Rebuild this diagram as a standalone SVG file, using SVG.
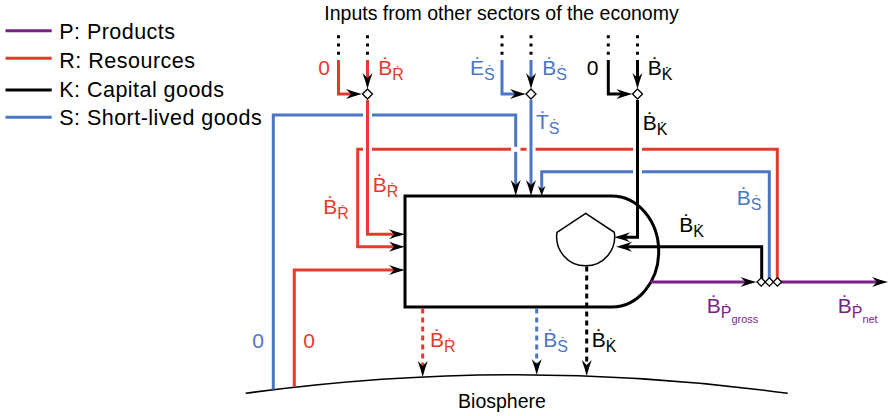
<svg xmlns="http://www.w3.org/2000/svg" width="890" height="416" viewBox="0 0 890 416">
<style>
text{font-family:"Liberation Sans","DejaVu Sans",Arial,sans-serif;}
.lbl{font-size:21px;}
.leg{font-size:21.5px;fill:#000;}
.r{fill:#e53b2c;} .b{fill:#4a76c5;} .p{fill:#7a1f87;} .k{fill:#000;}
.ln{fill:none;stroke-width:3;stroke-linejoin:miter;}
.sr{stroke:#e53b2c;} .sb{stroke:#4a76c5;} .sp{stroke:#7a1f87;} .sk{stroke:#000;}
.dot{fill:none;stroke:#000;stroke-width:3;stroke-dasharray:3 5.3;}
.dash{stroke-dasharray:5 4;}
.gap{stroke:#fff;stroke-width:5;fill:none;}
.dia{fill:#fff;stroke:#000;stroke-width:1.3;}
.arr{marker-end:url(#ah);}
.arrs{marker-end:url(#ahs);}
</style>
<defs>
<marker id="ah" markerUnits="userSpaceOnUse" viewBox="-12 -7 20 14" refX="0" refY="0" markerWidth="20" markerHeight="14" orient="auto">
<path d="M6,0 Q-2,-2 -10,-5 L-5,0 L-10,5 Q-2,2 6,0 Z" fill="#000"/>
</marker>
<marker id="ahs" markerUnits="userSpaceOnUse" viewBox="-12 -7 20 14" refX="0" refY="0" markerWidth="20" markerHeight="14" orient="auto">
<path d="M4,0 Q-1,-1.5 -6,-3.8 L-3,0 L-6,3.8 Q-1,1.5 4,0 Z" fill="#000"/>
</marker>
</defs>
<rect width="890" height="416" fill="#fff"/>

<g id="legend">
<line x1="5.5" y1="30.7" x2="51.7" y2="30.7" class="ln sp"/>
<line x1="5.5" y1="58.3" x2="51.7" y2="58.3" class="ln sr"/>
<line x1="5.5" y1="90" x2="51.7" y2="90" class="ln sk"/>
<line x1="5.5" y1="117.3" x2="51.7" y2="117.3" class="ln sb"/>
<text x="59.3" y="39.3" class="leg" textLength="115.7" lengthAdjust="spacing">P: Products</text>
<text x="59.3" y="68.3" class="leg" textLength="135.7" lengthAdjust="spacing">R: Resources</text>
<text x="59.3" y="97.3" class="leg" textLength="164.7" lengthAdjust="spacing">K: Capital goods</text>
<text x="59.3" y="124.7" class="leg" textLength="202.4" lengthAdjust="spacing">S: Short-lived goods</text>
</g>

<g id="title">
<text x="501.5" y="20" font-size="19.5" text-anchor="middle">Inputs from other sectors of the economy</text>
</g>

<g id="biosphere">
<path d="M245.7,393.3 A1994,1994 0 0 1 787.7,393.3" fill="none" stroke="#000" stroke-width="1.6"/>
<text x="502" y="408.3" font-size="19.5" text-anchor="middle">Biosphere</text>
</g>

<g id="sector">
<path d="M405,196 L611.7,196 A47,55.5 0 0 1 611.7,307 L405,307 Z" fill="#fff" stroke="#000" stroke-width="3"/>
</g>

<g id="connectors">
<line x1="338.5" y1="35.2" x2="338.5" y2="56" class="dot"/>
<line x1="367.5" y1="35.2" x2="367.5" y2="56" class="dot"/>
<line x1="502" y1="35.2" x2="502" y2="56" class="dot"/>
<line x1="531" y1="35.2" x2="531" y2="56" class="dot"/>
<line x1="608.3" y1="35.2" x2="608.3" y2="56" class="dot"/>
<line x1="637.5" y1="35.2" x2="637.5" y2="56" class="dot"/>

<path d="M338.5,60 L338.5,94 L356,94" class="ln sr arr"/>
<path d="M367.5,60 L367.5,83" class="ln sr arr"/>
<path d="M502,60 L502,94 L520,94" class="ln sb arr"/>
<path d="M531,60 L531,83" class="ln sb arr"/>
<path d="M608.3,60 L608.3,94 L626.5,94" class="ln sk arr"/>
<path d="M637.5,60 L637.5,83" class="ln sk arr"/>

<path d="M273.3,389.5 L273.3,115 L515.7,115 L515.7,190" class="ln sb arr"/>
<path d="M777.3,282 L777.3,149.3 L357.7,149.3 L357.7,246.7 L399,246.7" class="ln sr arr"/>
<path d="M769.3,282 L769.3,171.7 L541.7,171.7 L541.7,192" class="ln sb arrs"/>
<line x1="363" y1="115" x2="372" y2="115" class="gap"/>
<line x1="363" y1="149.3" x2="372" y2="149.3" class="gap"/>
<line x1="511" y1="149.3" x2="520.5" y2="149.3" class="gap"/>
<line x1="526.5" y1="149.3" x2="535.5" y2="149.3" class="gap"/>
<line x1="633" y1="149.3" x2="642" y2="149.3" class="gap"/>
<line x1="633" y1="171.7" x2="642" y2="171.7" class="gap"/>
<path d="M367.5,100 L367.5,234.3 L399,234.3" class="ln sr arr"/>
<path d="M531,100 L531,190" class="ln sb arr"/>
<path d="M637.5,100 L637.5,237.3 L620,237.3" class="ln sk arr"/>
<path d="M761.7,282 L761.7,246.7 L622,246.7" class="ln sk arr"/>
<path d="M294.3,387 L294.3,270 L399,270" class="ln sr arr"/>

<path d="M650.7,282 L750.5,282" class="ln sp arr"/>
<path d="M781,282 L882,282" class="ln sp arr"/>

<path d="M422.7,308.5 L422.7,371" class="ln sr dash arr"/>
<path d="M536.7,308.5 L536.7,369" class="ln sb dash arr"/>
<path d="M586.7,266.5 L586.7,370" class="ln sk dash arr"/>
</g>

<g id="capital-stock">
<path d="M557,232.3 L585.7,213.3 L614.3,232.3 A29,29 0 1 1 557,232.3 Z" fill="#fff" stroke="#000" stroke-width="1.5"/>
</g>

<g id="junctions">
<path id="j-r" d="M367.5,89 L372.5,94 L367.5,99 L362.5,94 Z" class="dia"/>
<path id="j-s" d="M531,89 L536,94 L531,99 L526,94 Z" class="dia"/>
<path id="j-k" d="M637.5,89 L642.5,94 L637.5,99 L632.5,94 Z" class="dia"/>
<path id="j-pk" d="M761.2,277.8 L765.4,282 L761.2,286.2 L757,282 Z" class="dia"/>
<path id="j-ps" d="M769.3,277.8 L773.5,282 L769.3,286.2 L765.1,282 Z" class="dia"/>
<path id="j-pr" d="M777.4,277.8 L781.6,282 L777.4,286.2 L773.2,282 Z" class="dia"/>
</g>

<g id="labels" class="lbl">
<text x="318.3" y="75" class="r">0</text>
<text x="378.3" y="75" class="r">Ḃ<tspan dy="5" font-size="16">Ṙ</tspan></text>
<text x="470" y="75" class="b">Ė<tspan dy="5" font-size="16">Ṡ</tspan></text>
<text x="542.3" y="75" class="b">Ḃ<tspan dy="5" font-size="16">Ṡ</tspan></text>
<text x="586.7" y="75" class="k">0</text>
<text x="647.7" y="75" class="k">Ḃ<tspan dy="5" font-size="16">K̇</tspan></text>
<text x="536" y="129" class="b">Ṫ<tspan dy="5" font-size="16">Ṡ</tspan></text>
<text x="642.7" y="130" class="k">Ḃ<tspan dy="5" font-size="16">K̇</tspan></text>
<text x="372.7" y="192" class="r">Ḃ<tspan dy="5" font-size="16">Ṙ</tspan></text>
<text x="323.3" y="214" class="r">Ḃ<tspan dy="5" font-size="16">Ṙ</tspan></text>
<text x="736.7" y="205" class="b">Ḃ<tspan dy="5" font-size="16">Ṡ</tspan></text>
<text x="679.3" y="232" class="k">Ḃ<tspan dy="5" font-size="16">K̇</tspan></text>
<text x="706.7" y="313" class="p">Ḃ<tspan dy="5" font-size="16">Ṗ</tspan><tspan dy="5" font-size="11">gross</tspan></text>
<text x="837.7" y="313" class="p">Ḃ<tspan dy="5" font-size="16">Ṗ</tspan><tspan dy="5" font-size="11">net</tspan></text>
<text x="252.3" y="348" class="b">0</text>
<text x="303.3" y="348" class="r">0</text>
<text x="430" y="346.7" class="r">Ḃ<tspan dy="5" font-size="16">Ṙ</tspan></text>
<text x="543.3" y="346.7" class="b">Ḃ<tspan dy="5" font-size="16">Ṡ</tspan></text>
<text x="591.7" y="346.7" class="k">Ḃ<tspan dy="5" font-size="16">K̇</tspan></text>
</g>
</svg>
